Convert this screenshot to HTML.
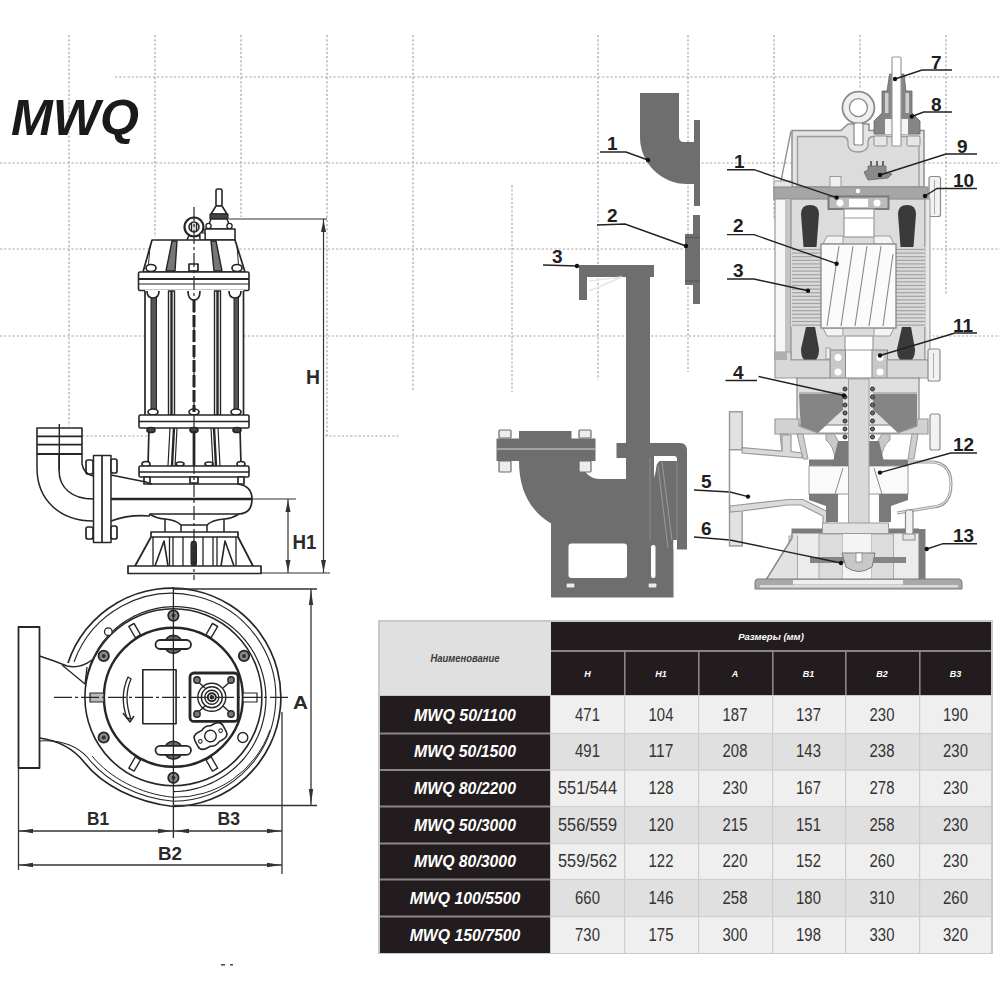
<!DOCTYPE html>
<html><head><meta charset="utf-8"><style>
html,body{margin:0;padding:0;background:#fff;width:1000px;height:1000px;overflow:hidden}
svg{display:block}
text{font-family:"Liberation Sans",sans-serif}
</style></head><body>
<svg width="1000" height="1000" viewBox="0 0 1000 1000">
<rect width="1000" height="1000" fill="#fff"/>
<g stroke="#a6a6a6" stroke-width="1.2" stroke-dasharray="2.2 2" fill="none"><line x1="69" y1="35" x2="69" y2="426"/><line x1="155" y1="35" x2="155" y2="237"/><line x1="241" y1="35" x2="241" y2="217"/><line x1="327" y1="35" x2="327" y2="436"/><line x1="413" y1="35" x2="413" y2="390"/><line x1="512" y1="185" x2="512" y2="392"/><line x1="598" y1="35" x2="598" y2="380"/><line x1="688" y1="35" x2="688" y2="372"/><line x1="774" y1="35" x2="774" y2="220"/><line x1="860" y1="35" x2="860" y2="88"/><line x1="946" y1="35" x2="946" y2="295"/><line x1="115" y1="77" x2="1000" y2="77"/><line x1="0" y1="163" x2="1000" y2="163"/><line x1="0" y1="249" x2="1000" y2="249"/><line x1="0" y1="336" x2="1000" y2="336"/><line x1="82" y1="436" x2="150" y2="436"/><line x1="325" y1="436" x2="400" y2="436"/></g>
<text x="11" y="135" font-family="Liberation Sans" font-weight="bold" font-style="italic" font-size="50" fill="#1a1a1a" textLength="128" lengthAdjust="spacingAndGlyphs">MWQ</text>
<g fill="none" stroke="#262626" stroke-width="1.7" stroke-linejoin="round">
  <!-- cable gland -->
  <rect x="216" y="189" width="6" height="17" rx="1.5" fill="#fff" stroke-width="1.6"/>
  <path d="M216,206 L222,206 L227,214 L211,214 Z" fill="#fff" stroke-width="1.6"/>
  <rect x="210" y="214" width="18" height="5" fill="#444" stroke-width="1.2"/>
  <path d="M211,219 L227,219 L231,229 L207,229 Z" fill="#fff" stroke-width="1.5"/>
  <circle cx="208.5" cy="226" r="2.6" fill="#fff" stroke-width="1.3"/><circle cx="229.5" cy="226" r="2.6" fill="#fff" stroke-width="1.3"/>
  <rect x="205" y="229" width="30" height="11" fill="#fff" stroke-width="1.6"/>
  <!-- eye bolt -->
  <circle cx="194" cy="227" r="9.5" fill="#fff" stroke-width="2.2"/>
  <circle cx="194" cy="227" r="5" fill="#ddd" stroke-width="1.5"/>
  <line x1="191.5" y1="223" x2="191.5" y2="231" stroke-width="1.2"/><line x1="196.5" y1="223" x2="196.5" y2="231" stroke-width="1.2"/>
  <path d="M189,235 L187,240 M199,235 L201,240" stroke-width="1.5"/>
  <rect x="200" y="233" width="5" height="7" fill="#fff" stroke-width="1.2"/>
  <!-- head -->
  <path d="M152,240 L235,240 L245,272 L143,272 Z" fill="#fff"/>
  <path d="M172,241 L166,271 L175,271 L177,241 Z" fill="#777" stroke-width="1.4"/>
  <path d="M211,241 L214,271 L222,271 L216,241 Z" fill="#777" stroke-width="1.4"/>
  <path d="M150,246 L148,271 M237,246 L239,271" stroke-width="1"/>
  <ellipse cx="151" cy="268" rx="5" ry="3.5" fill="#fff"/>
  <ellipse cx="237" cy="268" rx="5" ry="3.5" fill="#fff"/>
  <rect x="189" y="264" width="9" height="7" fill="#fff"/>
  <!-- flange 1 -->
  <rect x="138.5" y="272" width="110.5" height="18.5" rx="1.5" fill="#fff" stroke-width="1.6"/>
  <line x1="139" y1="279" x2="249" y2="279" stroke-width="1.8"/>
  <line x1="139" y1="284" x2="249" y2="284" stroke-width="1.2"/>
  <!-- motor body -->
  <rect x="145" y="290" width="98.5" height="126" fill="#fff" stroke="none"/>
  <path d="M149,428 L240,428 L241,466 L148,466 Z" fill="#fff" stroke="none"/>
  <line x1="145" y1="291" x2="145" y2="415"/>
  <line x1="243.5" y1="291" x2="243.5" y2="415"/>
  <rect x="151" y="297" width="5.5" height="118" fill="#555" stroke-width="1"/>
  <rect x="168.5" y="291" width="6" height="124" fill="#fff" stroke-width="1.4"/>
  <line x1="171.5" y1="291" x2="171.5" y2="415" stroke-width="2.4"/>
  <rect x="214.5" y="291" width="6" height="124" fill="#fff" stroke-width="1.4"/>
  <line x1="217.5" y1="291" x2="217.5" y2="415" stroke-width="2.4"/>
  <rect x="234" y="297" width="4.5" height="118" fill="#555" stroke-width="1"/>
  <path d="M147,291 Q147,298 153,298 Q159,298 159,291" fill="#fff"/>
  <path d="M229,291 Q229,298 235,298 Q241,298 241,291" fill="#fff"/>
  <path d="M188,291 Q188,300 194,300 Q200,300 200,291" fill="#fff"/>
  <ellipse cx="153" cy="412" rx="5" ry="3" fill="#fff"/>
  <ellipse cx="194" cy="412" rx="5" ry="3" fill="#fff"/>
  <ellipse cx="236" cy="412" rx="5" ry="3" fill="#fff"/>
  <!-- flange 2 -->
  <rect x="139" y="415" width="110" height="13" rx="1.5" fill="#fff" stroke-width="1.6"/>
  <line x1="139" y1="421.5" x2="249" y2="421.5" stroke-width="1.4"/>
  <!-- lower motor -->
  <path d="M149,428 L148,466 M240,428 L241,466" />
  <path d="M170,428 L168,466 M177,428 L175,466" stroke-width="1.2"/><path d="M174,428 L172,466" stroke-width="2.4"/>
  <path d="M211,428 L213,466 M218,428 L220,466" stroke-width="1.2"/><path d="M214,428 L216,466" stroke-width="2.4"/>
  <ellipse cx="151" cy="430" rx="4" ry="2.5" fill="#444"/>
  <ellipse cx="194" cy="430" rx="4" ry="2.5" fill="#444"/>
  <ellipse cx="237" cy="430" rx="4" ry="2.5" fill="#444"/>
  <ellipse cx="146" cy="464" rx="4" ry="2.5" fill="#fff"/>
  <ellipse cx="241" cy="464" rx="4" ry="2.5" fill="#fff"/>
  <ellipse cx="180" cy="464" rx="4" ry="2" fill="#fff"/>
  <ellipse cx="209" cy="464" rx="4" ry="2" fill="#fff"/>
  <!-- flange 3 -->
  <rect x="139" y="466" width="110" height="11" rx="1.5" fill="#fff" stroke-width="1.6"/>
  <line x1="139" y1="472" x2="249" y2="472" stroke-width="1.3"/>
  <rect x="144" y="477" width="6" height="7" fill="#fff"/>
  <rect x="238" y="477" width="6" height="7" fill="#fff"/>
  <rect x="190" y="477" width="8" height="6" fill="#fff"/>
  <!-- volute -->
  <path d="M150,484 L238,484 Q252,486 252,499 Q252,514 238,514 L150,514"/>
  <line x1="111" y1="499" x2="252" y2="499" stroke-width="2.6"/>
  <path d="M111,475 L146,482 Q150,484 152,484"/>
  <path d="M111,521 Q130,514 150,516"/>
  <path d="M149,514 Q158,519 165,519 Q176,520 181,525 L207,525 Q212,520 224,519 Q231,519 239,514"/>
  <path d="M165,519 L165,532 M181,525 L181,532 M207,525 L207,532 M224,519 L224,532" stroke-width="1.5"/>
  <!-- pedestal -->
  <rect x="151" y="532" width="87" height="5" fill="#fff"/>
  <path d="M151,537 L135,566 M238,537 L253,566" stroke-width="1.8"/>
  <path d="M153,537 L153,566 M236,537 L236,566 M169.5,537 L169.5,566 M173,537 L173,566 M183,537 L183,566 M203,537 L203,566 M213,537 L213,566 M217,537 L217,566" stroke-width="1.3"/>
  <path d="M155,566 L164,541 L168,566 M234,566 L225,541 L221,566" stroke-width="1.6"/>
  <rect x="191" y="541" width="5.5" height="25" rx="2.5" fill="#333" stroke-width="1"/>
  <rect x="128" y="566" width="133" height="7.5" fill="#fff" stroke-width="1.7"/>
  <!-- discharge flange -->
  <rect x="93.5" y="455.5" width="17.5" height="87" fill="#fff" stroke-width="1.5"/>
  <line x1="102" y1="456" x2="102" y2="542"/>
  <rect x="86" y="460" width="7" height="14" rx="2" fill="#fff"/>
  <rect x="111" y="459" width="6" height="14" rx="2" fill="#fff"/>
  <rect x="86" y="527" width="7" height="12" rx="2" fill="#fff"/>
  <rect x="111" y="526" width="6" height="13" rx="2" fill="#fff"/>
  <!-- elbow -->
  <path d="M37,454 L37,468 C37,500 60,521 93,521" stroke-width="1.5"/>
  <path d="M59,454 L59,470 C59,488 72,499 93,499" stroke-width="1.5"/>
  <path d="M82,454 L82,464 Q84,474 93,476" stroke-width="1.5"/>
  <rect x="37" y="428" width="45" height="26" fill="#fff" stroke-width="1.6"/>
  <line x1="37" y1="436.3" x2="82" y2="436.3" stroke-width="1.8"/>
  <line x1="37" y1="444.7" x2="82" y2="444.7" stroke-width="1.8"/>
  <line x1="37" y1="454" x2="82" y2="454" stroke-width="2"/>
  <line x1="59.3" y1="424" x2="59.3" y2="470" stroke-width="1.4"/>
  <!-- centerline -->
  <line x1="194" y1="431" x2="194" y2="466" stroke-width="2.8"/>
  <line x1="194" y1="300" x2="194" y2="412" stroke-width="3" stroke-dasharray="12 3"/>
  <line x1="194" y1="207" x2="194" y2="580" stroke-width="1.2" stroke-dasharray="14 3 3 3"/>
  <!-- dimensions -->
  <g stroke="#333" stroke-width="1.2">
    <line x1="229" y1="219" x2="327" y2="219"/>
    <line x1="323.5" y1="219" x2="323.5" y2="573"/>
    <line x1="252" y1="499" x2="296" y2="499"/>
    <line x1="288" y1="499" x2="288" y2="573"/>
    <line x1="261" y1="573" x2="330" y2="573"/>
  </g>
  <g fill="#333" stroke="none">
    <path d="M323.5,220 L321,232 L326,232 Z"/>
    <path d="M323.5,572 L321,560 L326,560 Z"/>
    <path d="M288,500 L285.5,512 L290.5,512 Z"/>
    <path d="M288,572 L285.5,560 L290.5,560 Z"/>
  </g>
</g>
<g font-family="Liberation Sans" font-weight="bold" font-size="20" fill="#2a2a2a">
  <text x="306" y="383.5" textLength="14" lengthAdjust="spacingAndGlyphs">H</text>
  <text x="292.5" y="548.5" textLength="24" lengthAdjust="spacingAndGlyphs">H1</text>
</g>

<g fill="none" stroke="#262626" stroke-width="1.6" stroke-linejoin="round">
  <!-- discharge flange -->
  <rect x="18.5" y="627" width="21" height="141" fill="#fff" stroke-width="1.8"/>
  <!-- neck & tongue -->
  <path d="M39.5,656 Q55,661 67,666 Q80,669 92,660" stroke-width="1.5"/>
  <path d="M62,665 L85,684 L87,667" stroke-width="1.3"/>
  <!-- volute spiral -->
  <path d="M68,663 A109.2,109.2 0 1,1 173.4,806.5 C135,802 102,785 84,762 Q68,742 39.5,738" stroke-width="1.7"/>
  <path d="M74,662 A104,104 0 1,1 173.4,801.3 C137,798 106,781 88,758 Q71,739 39.5,741" stroke-width="1.1"/>
  <path d="M270,730 A100,100 0 0,1 173.4,797.3 C140,794 110,778 92,756" stroke-width="1"/>
  <!-- motor flange circles -->
  <circle cx="173.4" cy="697.3" r="88.5" stroke-width="1.6"/>
  <path d="M85.5,683.4 L86.2,679.4 L87.0,675.4 L88.1,671.5 L89.3,667.6 L90.7,663.8 L92.2,660.0 L94.0,656.4 L95.9,652.7 L97.9,649.2 L100.1,645.8 L102.5,642.5 L105.1,639.3 L107.7,636.2 L110.5,633.2 L113.5,630.4 L116.6,627.7 L119.8,625.1 L123.1,622.7 L126.5,620.5 L130.0,618.4 L133.6,616.4 L137.3,614.7 L141.1,613.0 L145.0,611.6 L148.9,610.4 L152.9,609.3 L156.9,608.4 L160.9,607.7 L165.0,607.1 L169.1,606.8 L173.3,606.6 L177.4,606.7 L181.5,606.9 L185.6,607.3 L189.7,607.9 L193.8,608.7 L197.8,609.7 L201.8,610.8 L205.7,612.1 L209.6,613.7 L213.4,615.3 L217.1,617.2 L220.7,619.2 L224.3,621.4 L227.7,623.8 L231.0,626.3 L234.2,628.9 L237.3,631.7 L240.3,634.7 L243.1,637.8 L245.8,641.0 L248.3,644.3 L250.7,647.7 L252.9,651.3 L255.0,654.9 L256.9,658.7 L258.6,662.5 L260.2,666.4 L261.5,670.3 L262.7,674.4 L263.7,678.4 L264.5,682.6 L265.2,686.7 L265.6,690.9 L265.8,695.1 L265.9,699.3 L265.8,703.5 L265.4,707.8 L264.9,711.9 L264.2,716.1 L263.3,720.2 L262.2,724.3 L261.0,728.4 L259.5,732.3 L257.9,736.2 L256.0,740.1 L254.1,743.8 L251.9,747.5 L249.6,751.0 L247.1,754.5 L244.5,757.8 L241.7,761.0 L238.7,764.1 L235.7,767.0 L232.5,769.8 L229.1,772.5 L225.7,775.0 L222.1,777.3 L218.4,779.5 L214.7,781.5 L210.8,783.4 L206.9,785.0 L202.9,786.5 L198.8,787.8 L194.6,788.9 L190.5,789.9 L186.2,790.6 L182.0,791.1 L177.7,791.5 L173.4,791.6" stroke-width="1.2"/>
  <circle cx="173.4" cy="697.3" r="69.5" stroke-width="2.4"/>
  <!-- bolts -->
  <g fill="#8a8a8a" stroke="#262626" stroke-width="1.8">
    <circle cx="173.4" cy="615.6" r="5.2"/>
    <circle cx="173.4" cy="777.8" r="5.2"/>
    <circle cx="103.7" cy="655.9" r="5.2"/>
    <circle cx="244" cy="655.9" r="5.2"/>
    <circle cx="103.7" cy="737.5" r="5.2"/>
  </g>
  <g fill="#333" stroke="none">
    <circle cx="173.4" cy="615.6" r="2"/><circle cx="173.4" cy="777.8" r="2"/><circle cx="103.7" cy="655.9" r="2"/>
    <circle cx="244" cy="655.9" r="2"/><circle cx="103.7" cy="737.5" r="2"/>
  </g>
  <circle cx="242.8" cy="737.5" r="5" fill="#fff" stroke-width="1.4"/>
  <circle cx="108.3" cy="631.7" r="3.8" fill="#fff" stroke-width="1.3"/>
  <!-- slots -->
  <g fill="#fff" stroke-width="1.4">
    <rect x="-3" y="-6.5" width="6" height="13" transform="translate(134.7,630.6) rotate(-30)"/>
    <rect x="-3" y="-6.5" width="6" height="13" transform="translate(211.8,630.6) rotate(30)"/>
    <rect x="-3" y="-6.5" width="6" height="13" transform="translate(134.7,764) rotate(30)"/>
    <rect x="-3" y="-6.5" width="6" height="13" transform="translate(211.8,764) rotate(-30)"/>
  </g>
  <rect x="90" y="693" width="14" height="9" fill="#bbb" stroke-width="1.2"/>
  <rect x="243" y="693" width="14" height="9" fill="#fff" stroke-width="1.2"/>
  <!-- handles -->
  <ellipse cx="173.4" cy="644.4" rx="9" ry="9" fill="#6a6a6a"/>
  <rect x="155.5" y="640" width="35.5" height="9" rx="4.5" fill="#fff" stroke-width="1.8"/>
  <ellipse cx="173.4" cy="750.2" rx="9" ry="9" fill="#6a6a6a"/>
  <rect x="155.5" y="745.8" width="35.5" height="9" rx="4.5" fill="#fff" stroke-width="1.8"/>
  <!-- rectangle -->
  <rect x="142.8" y="669.7" width="33.3" height="54" fill="#fff" stroke-width="1.6"/>
  <!-- terminal box -->
  <rect x="190" y="673" width="48.2" height="48.4" rx="4" fill="#fff" stroke-width="2.8"/>
  <path d="M194,678 L205,688 M234,678 L223,688 M194,716 L205,706 M234,716 L223,706" stroke-width="1.4"/>
  <g fill="#777" stroke-width="1.4">
    <circle cx="197" cy="680" r="3.2"/><circle cx="231" cy="680" r="3.2"/>
    <circle cx="197" cy="714" r="3.2"/><circle cx="231" cy="714" r="3.2"/>
  </g>
  <circle cx="211.8" cy="697.3" r="14" stroke-width="1.4"/>
  <circle cx="211.8" cy="697.3" r="10.5" stroke-width="1.4"/>
  <circle cx="211.8" cy="697.3" r="7" stroke-width="1.4"/>
  <circle cx="211.8" cy="697.3" r="4" stroke-width="2"/>
  <circle cx="211.8" cy="697.3" r="1.5" fill="#333"/>
  <!-- oval flange -->
  <g transform="translate(210.5,736) rotate(-28)">
    <path d="M-16,-3 Q-16,-9 -9,-9 L-5,-9 Q0,-12 5,-9 L9,-9 Q16,-9 16,-3 L16,3 Q16,9 9,9 L5,9 Q0,12 -5,9 L-9,9 Q-16,9 -16,3 Z" fill="#fff" stroke-width="1.6"/>
    <circle cx="0" cy="0" r="5.8" fill="#fff" stroke-width="1.4"/>
    <circle cx="-11.5" cy="0" r="1.8" fill="#fff" stroke-width="1"/>
    <circle cx="11.5" cy="0" r="1.8" fill="#fff" stroke-width="1"/>
  </g>
  <!-- rotation arrow -->
  <path d="M128,677 Q119,697 127,718 L131,719 Q123,697 131,679 Z" fill="#fff" stroke-width="1.3"/>
  <path d="M123,713 L130,722 L134,716" stroke-width="1.4"/>
  <!-- centerlines -->
  <line x1="54" y1="697.3" x2="290" y2="697.3" stroke-width="1.2" stroke-dasharray="18 3 3 3"/>
  <line x1="173.4" y1="587" x2="173.4" y2="838" stroke-width="1.3"/>
  <!-- dimensions -->
  <g stroke="#333" stroke-width="1.3">
    <line x1="173" y1="589" x2="317" y2="589"/>
    <line x1="173" y1="805.5" x2="317" y2="805.5"/>
    <line x1="311" y1="589" x2="311" y2="805"/>
    <line x1="18.5" y1="767" x2="18.5" y2="870"/>
    <line x1="282" y1="712" x2="282" y2="874"/>
    <line x1="18.5" y1="831" x2="282" y2="831"/>
    <line x1="18.5" y1="865" x2="282" y2="865"/>
  </g>
  <g fill="#333" stroke="none">
    <path d="M311,590 L308.8,605 L313.2,605 Z"/>
    <path d="M311,804 L308.8,789 L313.2,789 Z"/>
    <path d="M19.5,831 L33,828.8 L33,833.2 Z"/>
    <path d="M172,831 L158,828.8 L158,833.2 Z"/>
    <path d="M175,831 L189,828.8 L189,833.2 Z"/>
    <path d="M281,831 L267,828.8 L267,833.2 Z"/>
    <path d="M19.5,865 L33,862.8 L33,867.2 Z"/>
    <path d="M281,865 L267,862.8 L267,867.2 Z"/>
  </g>
</g>
<g font-family="Liberation Sans" font-weight="bold" font-size="19" fill="#2a2a2a">
  <text x="293" y="708.5" textLength="15" lengthAdjust="spacingAndGlyphs">A</text>
  <text x="87" y="824.5" textLength="22" lengthAdjust="spacingAndGlyphs">B1</text>
  <text x="217.5" y="825" textLength="22.5" lengthAdjust="spacingAndGlyphs">B3</text>
  <text x="158" y="859.5" textLength="24" lengthAdjust="spacingAndGlyphs">B2</text>
</g>

<g fill="#6e6e6e" stroke="none">
  <!-- piece 1 elbow -->
  <path d="M640,93 L679,93 L679,137 Q679,142 684,142 L694,142 L694,120 L700,120 L700,206 L694,206 L694,184 L687,184 A47,47 0 0,1 640,137 Z"/>
  <!-- piece 2 -->
  <rect x="693" y="215" width="7" height="89"/>
  <rect x="685" y="234" width="15" height="51"/>
  <!-- piece 3 bracket & rail -->
  <rect x="579" y="265" width="75" height="12"/>
  <rect x="579" y="277" width="8" height="23"/>
  <rect x="626" y="277" width="24" height="307"/>
  <!-- duckfoot flange -->
  <rect x="496.5" y="438.5" width="99" height="22.5"/>
  <rect x="519" y="431" width="52.5" height="8"/>
  <!-- elbow body -->
  <path d="M519,461 L579,461 Q586,479 600,479 L626,479 L626,524 L552,524 Q519,505 519,461 Z"/>
  <!-- base -->
  <path d="M551,520 L673.5,520 L673.5,597.5 L551,597.5 Z"/>
  <!-- right bracket -->
  <path d="M649,443 L680,443 Q687,443 687,451 L687,549.5 L677,549.5 L677,540 L649,540 Z"/>
  <rect x="616.5" y="443" width="9.5" height="15"/>
</g>
<g fill="#fff" stroke="none">
  <rect x="568.5" y="543.5" width="58.5" height="34.5" rx="3"/>
  <rect x="651" y="545" width="4.5" height="33" rx="2"/>
  <path d="M654,456 L674,456 Q677,456 677,459 L677,461 L660,461 Q656,463 656,470 L654,478 Z"/>
  <path d="M673.5,540 L677,540 L677,549.5 L673.5,549.5 Z"/>
</g>
<g fill="none" stroke="#d8d8d8" stroke-width="1">
  <path d="M589,281 L622,277 L589,291" stroke="#e6e6e6" stroke-width="1.6"/>
  <line x1="497" y1="449" x2="595" y2="449"/>
  <line x1="685" y1="237.5" x2="700" y2="237.5" stroke="#555"/>
  <line x1="685" y1="281" x2="700" y2="281" stroke="#555"/>
  <line x1="650" y1="458" x2="650" y2="540" stroke="#8a8a8a"/>
  <line x1="658" y1="466" x2="668" y2="548" stroke="#9a9a9a"/>
  <line x1="662" y1="462" x2="672" y2="540" stroke="#9a9a9a"/>
  <line x1="677" y1="462" x2="677" y2="540" stroke="#8a8a8a"/>
</g>
<g fill="#ececec" stroke="#6a6a6a" stroke-width="1.2">
  <rect x="499" y="430" width="12" height="8" rx="1"/>
  <rect x="579" y="430" width="12" height="8" rx="1"/>
  <rect x="499" y="461" width="12" height="11" rx="1"/>
  <rect x="579" y="461" width="12" height="11" rx="1"/>
  <rect x="566" y="583" width="9" height="5" rx="1"/>
  <rect x="648" y="583" width="9" height="5" rx="1"/>
</g>
<g fill="none" stroke="#222" stroke-width="1.4">
  <path d="M600,152 L626,152 L648,160"/>
  <path d="M597,225 L625,224 L686,246"/>
  <path d="M543,265 L578,266"/>
  <path d="M694,490 L730,492"/>
  <path d="M694,537 L730,540"/>
</g>
<g fill="#111">
  <circle cx="648" cy="160" r="2.2"/>
  <circle cx="686" cy="246" r="2.2"/>
  <circle cx="577" cy="266" r="2.2"/>
</g>
<g font-family="Liberation Sans" font-weight="bold" font-size="19" fill="#1e1e1e">
  <text x="607" y="150">1</text>
  <text x="607" y="222">2</text>
  <text x="552" y="263">3</text>
  <text x="701" y="488">5</text>
  <text x="701" y="535">6</text>
</g>

<g id="sect">
  <!-- ===== top cover ===== -->
  <path d="M792,130.5 L841,130.5 L848,124 L869,124 L869,130.5 L924,130.5 L924,187 L792,187 Z" fill="#e4e4e4" stroke="#8e8e8e" stroke-width="1.5"/>
  <path d="M797.5,136.5 L843,136.5 Q848,137 848,142 L848,146 Q850,152 858,152 Q866,152 868,146 L868,142 Q868,137 873,136.5 L919,136.5 L919,187 L797.5,187 Z" fill="#dcdcdc" stroke="#999" stroke-width="1.3"/>
  <path d="M791,131 L781,181" stroke="#8e8e8e" stroke-width="1.3" fill="none"/>
  <!-- eye bolt -->
  <circle cx="858.4" cy="107.6" r="16" fill="#efefef" stroke="#8a8a8a" stroke-width="1.8"/>
  <circle cx="858.4" cy="107.6" r="9" fill="#fff" stroke="#8a8a8a" stroke-width="1.3"/>
  <rect x="854" y="123" width="9" height="22" rx="2" fill="#fff" stroke="#8a8a8a" stroke-width="1.2"/>
  <!-- cable gland -->
  <path d="M889.6,74 L904,74 L906,91 L912,91 L912,113 L920,121 L920,134 L874,134 L874,121 L882,113 L882,91 L887,91 Z" fill="#858585" stroke="#666" stroke-width="0.8"/>
  <rect x="885" y="93" width="3.5" height="20" fill="#d0d0d0"/>
  <rect x="905.5" y="93" width="3.5" height="20" fill="#d0d0d0"/>
  <rect x="885" y="119" width="7" height="15" fill="#f4f4f4"/>
  <rect x="901" y="119" width="7" height="15" fill="#f4f4f4"/>
  <rect x="892" y="57" width="9" height="89" rx="1" fill="#fff" stroke="#9a9a9a" stroke-width="1.2"/>
  <rect x="874" y="136" width="13" height="10" rx="1.5" fill="#e6e6e6" stroke="#8e8e8e" stroke-width="1"/>
  <rect x="907" y="136" width="13" height="10" rx="1.5" fill="#e6e6e6" stroke="#8e8e8e" stroke-width="1"/>
  <!-- terminal block 9 -->
  <path d="M864,172 L868,170 L868,166 L886,166 L886,172 L892,174 L888,178 L868,180 Z" fill="#8a8a8a" stroke="#666" stroke-width="0.8"/>
  <path d="M871,166 L871,161 M877,166 L877,161 M883,166 L883,161" stroke="#666" stroke-width="2"/>
  <rect x="830" y="176.5" width="11" height="11" fill="#f0f0f0" stroke="#9a9a9a" stroke-width="1"/>
  <!-- ===== flange plate ===== -->
  <rect x="774" y="181" width="18" height="18" fill="#e6e6e6" stroke="#9a9a9a" stroke-width="1"/>
  <rect x="774" y="187" width="154" height="12" fill="#a6a6a6" stroke="#8a8a8a" stroke-width="1"/>
  <circle cx="858" cy="191" r="2.2" fill="#fff"/>
  <!-- bolt 10 -->
  <rect x="929" y="176.5" width="11.5" height="40" rx="2" fill="#f2f2f2" stroke="#8a8a8a" stroke-width="1.2"/>
  <line x1="934.5" y1="180" x2="934.5" y2="214" stroke="#aaa" stroke-width="1"/>
  <!-- ===== motor housing ===== -->
  <rect x="775" y="199" width="16" height="161" fill="#f6f6f6" stroke="#999" stroke-width="1.2"/>
  <rect x="785" y="199" width="6" height="161" fill="#c4c4c4"/>
  <rect x="791" y="199" width="134" height="161" fill="#dcdcdc" stroke="#999" stroke-width="1.4"/>
  <rect x="925" y="199" width="5" height="161" fill="#e8e8e8" stroke="#999" stroke-width="1"/>
  <!-- upper bearing -->
  <rect x="828.5" y="196.5" width="60" height="12.5" fill="#bdbdbd" stroke="#7a7a7a" stroke-width="2"/>
  <rect x="849" y="199" width="19" height="8" fill="#fff"/>
  <circle cx="840" cy="203" r="3.5" fill="#fff"/>
  <circle cx="877" cy="203" r="3.5" fill="#fff"/>
  <!-- upper shaft -->
  <rect x="844" y="209" width="30" height="28" fill="#fff" stroke="#9a9a9a" stroke-width="1.2"/>
  <line x1="844" y1="218" x2="874" y2="218" stroke="#9a9a9a" stroke-width="1"/>
  <!-- top blobs -->
  <path d="M803.5,247 L801,214 Q801,205 810,205 Q819,205 819,214 L816.5,247 Z" fill="#3a3a3a"/>
  <path d="M900.5,247 L898,214 Q898,205 907,205 Q916,205 916,214 L913.5,247 Z" fill="#3a3a3a"/>
  <!-- rotor end rings -->
  <path d="M823,244 L827,236 L843,236 L843,244 Z" fill="#f4f4f4" stroke="#9a9a9a" stroke-width="1"/>
  <path d="M874,244 L874,236 L890,236 L894,244 Z" fill="#f4f4f4" stroke="#9a9a9a" stroke-width="1"/>
  <path d="M823,328 L827,336 L843,336 L843,328 Z" fill="#f4f4f4" stroke="#9a9a9a" stroke-width="1"/>
  <path d="M874,328 L874,336 L890,336 L894,328 Z" fill="#f4f4f4" stroke="#9a9a9a" stroke-width="1"/>
  <!-- stator -->
  <rect x="791" y="247" width="30" height="80" fill="#dadada"/>
  <rect x="896" y="247" width="29.5" height="80" fill="#dadada"/>
  <g stroke="#a2a2a2" stroke-width="1.2">
    <line x1="792" y1="249.5" x2="821" y2="249.5"/><line x1="896" y1="249.5" x2="925" y2="249.5"/>
    <line x1="792" y1="253.1" x2="821" y2="253.1"/><line x1="896" y1="253.1" x2="925" y2="253.1"/>
    <line x1="792" y1="256.7" x2="821" y2="256.7"/><line x1="896" y1="256.7" x2="925" y2="256.7"/>
    <line x1="792" y1="260.3" x2="821" y2="260.3"/><line x1="896" y1="260.3" x2="925" y2="260.3"/>
    <line x1="792" y1="263.9" x2="821" y2="263.9"/><line x1="896" y1="263.9" x2="925" y2="263.9"/>
    <line x1="792" y1="267.5" x2="821" y2="267.5"/><line x1="896" y1="267.5" x2="925" y2="267.5"/>
    <line x1="792" y1="271.1" x2="821" y2="271.1"/><line x1="896" y1="271.1" x2="925" y2="271.1"/>
    <line x1="792" y1="274.7" x2="821" y2="274.7"/><line x1="896" y1="274.7" x2="925" y2="274.7"/>
    <line x1="792" y1="278.3" x2="821" y2="278.3"/><line x1="896" y1="278.3" x2="925" y2="278.3"/>
    <line x1="792" y1="281.9" x2="821" y2="281.9"/><line x1="896" y1="281.9" x2="925" y2="281.9"/>
    <line x1="792" y1="285.5" x2="821" y2="285.5"/><line x1="896" y1="285.5" x2="925" y2="285.5"/>
    <line x1="792" y1="289.1" x2="821" y2="289.1"/><line x1="896" y1="289.1" x2="925" y2="289.1"/>
    <line x1="792" y1="292.7" x2="821" y2="292.7"/><line x1="896" y1="292.7" x2="925" y2="292.7"/>
    <line x1="792" y1="296.3" x2="821" y2="296.3"/><line x1="896" y1="296.3" x2="925" y2="296.3"/>
    <line x1="792" y1="299.9" x2="821" y2="299.9"/><line x1="896" y1="299.9" x2="925" y2="299.9"/>
    <line x1="792" y1="303.5" x2="821" y2="303.5"/><line x1="896" y1="303.5" x2="925" y2="303.5"/>
    <line x1="792" y1="307.1" x2="821" y2="307.1"/><line x1="896" y1="307.1" x2="925" y2="307.1"/>
    <line x1="792" y1="310.7" x2="821" y2="310.7"/><line x1="896" y1="310.7" x2="925" y2="310.7"/>
    <line x1="792" y1="314.3" x2="821" y2="314.3"/><line x1="896" y1="314.3" x2="925" y2="314.3"/>
    <line x1="792" y1="317.9" x2="821" y2="317.9"/><line x1="896" y1="317.9" x2="925" y2="317.9"/>
    <line x1="792" y1="321.5" x2="821" y2="321.5"/><line x1="896" y1="321.5" x2="925" y2="321.5"/>
    <line x1="792" y1="325.1" x2="821" y2="325.1"/><line x1="896" y1="325.1" x2="925" y2="325.1"/>
  </g>
  <!-- rotor -->
  <rect x="821" y="244" width="75" height="84" fill="#fbfbfb" stroke="#8e8e8e" stroke-width="1.4"/>
  <g stroke="#8a8a8a" stroke-width="1.1">
    <line x1="827" y1="326" x2="839" y2="246"/>
    <line x1="841" y1="326" x2="853" y2="246"/>
    <line x1="855" y1="326" x2="867" y2="246"/>
    <line x1="869" y1="326" x2="881" y2="246"/>
    <line x1="883" y1="326" x2="893" y2="254"/>
  </g>
  <!-- lower shaft & bearings -->
  <rect x="845" y="336" width="28" height="43" fill="#fff" stroke="#9a9a9a" stroke-width="1.2"/>
  <line x1="845" y1="350" x2="873" y2="350" stroke="#9a9a9a" stroke-width="1"/>
  <rect x="830" y="350" width="15.5" height="29.5" fill="#c8c8c8" stroke="#8a8a8a" stroke-width="1"/>
  <rect x="872" y="350" width="15.5" height="29.5" fill="#c8c8c8" stroke="#8a8a8a" stroke-width="1"/>
  <circle cx="838" cy="357.5" r="3.5" fill="#fff"/><circle cx="838" cy="372" r="3.5" fill="#fff"/>
  <circle cx="880" cy="357.5" r="3.5" fill="#fff"/><circle cx="880" cy="372" r="3.5" fill="#fff"/>
  <rect x="826" y="348" width="4" height="11" fill="#eee" stroke="#8a8a8a" stroke-width="0.8"/>
  <!-- bottom blobs -->
  <path d="M806,327 L815,327 L819,349 Q819,362 810,362 Q801,362 801,349 Z" fill="#3a3a3a"/>
  <path d="M902,327 L911,327 L915,349 Q915,362 906,362 Q897,362 897,349 Z" fill="#3a3a3a"/>
  <!-- motor bottom flange -->
  <path d="M775,352 L791,352 L791,360 L830,360 L830,380 L797,380 L797,378 L775,378 Z" fill="#d8d8d8" stroke="#999" stroke-width="1.2"/>
  <path d="M887,360 L930,360 L930,378 L919,378 L919,380 L887,380 Z" fill="#d8d8d8" stroke="#999" stroke-width="1.2"/>
  <rect x="775" y="352" width="12" height="8" fill="#b0b0b0"/>
  <rect x="928" y="349" width="12" height="32" rx="2" fill="#f2f2f2" stroke="#8a8a8a" stroke-width="1.2"/>
  <line x1="933.5" y1="353" x2="933.5" y2="378" stroke="#aaa"/>
  <!-- ===== seal chamber ===== -->
  <rect x="797" y="378" width="122" height="47" fill="#e0e0e0" stroke="#999" stroke-width="1.4"/>
  <path d="M799,393 L843,393 L843,410 L836,416 L818,433 L801,433 Z" fill="#858585"/>
  <path d="M873,393 L917,393 L917,433 L898,433 L880,416 L873,410 Z" fill="#858585"/>
  <rect x="799" y="392" width="44" height="2" fill="#b8b8b8"/>
  <rect x="873" y="392" width="44" height="2" fill="#b8b8b8"/>
  <!-- flange below seal -->
  <path d="M775,419 L799,419 L799,426 L818,433 L898,433 L917,426 L917,419 L928,419 L928,434 L775,434 Z" fill="#d2d2d2" stroke="#999" stroke-width="1.2"/>
  <rect x="930" y="414" width="10" height="36" rx="2" fill="#f2f2f2" stroke="#8a8a8a" stroke-width="1.2"/>
  <!-- casing below -->
  <path d="M797,434 L803,434 L808,459 L803,459 Z M780,434 L788,434 L791,453 L782,453 Z" fill="#cfcfcf" stroke="#999" stroke-width="1"/>
  <path d="M826,434 L834,434 Q842,445 843,460 L835,460 Q834,446 826,440 Z" fill="#c9c9c9" stroke="#999" stroke-width="1"/>
  <path d="M890,434 L882,434 Q874,445 873,460 L881,460 Q882,446 890,440 Z" fill="#c9c9c9" stroke="#999" stroke-width="1"/>
  <path d="M912,434 L918,434 L914,459 L908,459 Z" fill="#cfcfcf" stroke="#999" stroke-width="1"/>
  <!-- discharge flange 5 -->
  <rect x="729.5" y="411.75" width="12.7" height="38" fill="#e2e2e2" stroke="#999" stroke-width="1.4"/>
  <rect x="729.5" y="508" width="12.7" height="38" fill="#e2e2e2" stroke="#999" stroke-width="1.4"/>
  <line x1="729.5" y1="449" x2="729.5" y2="509" stroke="#999" stroke-width="1.6"/>
  <!-- volute upper wall -->
  <path d="M742,447.7 L782,451 L782,435 L791,435 L791,451.5 L801,453 Q804,455 801,458 L742,453 Z" fill="#dadada" stroke="#999" stroke-width="1.2"/>
  <!-- volute lower wall -->
  <path d="M730,506 L788,499.5 L803,499.5 L828,512 L828,528 L823,528 L823,516 L801,505 L788,505 L742,511 L730,512 Z" fill="#dadada" stroke="#999" stroke-width="1.2"/>
  <!-- volute right loop -->
  <path d="M907,462 L933,462 Q951,464 951,484 Q951,506 933,507 L897,513" fill="none" stroke="#9a9a9a" stroke-width="3"/>
  <path d="M907,462 L933,462 Q951,464 951,484 Q951,506 933,507 L897,513" fill="none" stroke="#f2f2f2" stroke-width="1"/>
  <!-- impeller -->
  <rect x="809" y="459.5" width="99" height="6.5" fill="#7a7a7a"/>
  <rect x="809" y="466" width="99" height="28" fill="#fafafa" stroke="#9a9a9a" stroke-width="1"/>
  <path d="M809,494 L838,494 L838,522 L826,522 L826,506 L809,500 Z" fill="#7a7a7a"/>
  <path d="M908,494 L879,494 L879,522 L891,522 L891,506 L908,500 Z" fill="#7a7a7a"/>
  <path d="M838,441 L848,441 L848,466 L832,466 Z" fill="#7a7a7a"/>
  <path d="M879,441 L869,441 L869,466 L885,466 Z" fill="#7a7a7a"/>
  <line x1="843" y1="468" x2="835" y2="494" stroke="#8a8a8a" stroke-width="1"/>
  <line x1="874" y1="468" x2="882" y2="494" stroke="#8a8a8a" stroke-width="1"/>
  <!-- shaft -->
  <rect x="848.5" y="379" width="20.5" height="167" fill="#d9d9d9" stroke="#a0a0a0" stroke-width="1"/>
  <g fill="#6a6a6a" stroke="#2e2e2e" stroke-width="1">
    <circle cx="845" cy="389" r="2"/><circle cx="845" cy="397" r="2"/><circle cx="845" cy="405" r="2"/><circle cx="845" cy="413" r="2"/><circle cx="845" cy="421" r="2"/><circle cx="845" cy="429" r="2"/><circle cx="845" cy="437" r="2"/>
    <circle cx="872.5" cy="389" r="2"/><circle cx="872.5" cy="397" r="2"/><circle cx="872.5" cy="405" r="2"/><circle cx="872.5" cy="413" r="2"/><circle cx="872.5" cy="421" r="2"/><circle cx="872.5" cy="429" r="2"/><circle cx="872.5" cy="437" r="2"/>
  </g>
  <!-- ===== base ===== -->
  <rect x="794" y="533" width="126" height="47" fill="#ececec"/>
  <g fill="#dcdcdc" stroke="#a8a8a8" stroke-width="1">
    <rect x="789" y="536" width="8.5" height="44"/>
    <rect x="819" y="534" width="24" height="46"/>
    <rect x="871" y="534" width="22.5" height="46"/>
  </g>
  <rect x="843" y="534" width="28" height="46" fill="#f4f4f4"/>
  <path d="M791.5,531 L919,531" stroke="#7c7c7c" stroke-width="5" fill="none"/>
  <path d="M922,529 L922,580" stroke="#7c7c7c" stroke-width="7" fill="none"/>
  <path d="M792,533 L792,538 L766,580 L797,580 L797,536 Z" fill="#e2e2e2" stroke="none"/>
  <path d="M792,533 L792,538 L766,580" stroke="#8a8a8a" stroke-width="1.5" fill="none"/>
  <rect x="822.5" y="523" width="66" height="10.5" fill="#e2e2e2" stroke="#9a9a9a" stroke-width="1"/>
  <rect x="905.5" y="510" width="7.5" height="25" rx="2" fill="#f2f2f2" stroke="#8a8a8a" stroke-width="1.2"/>
  <rect x="903" y="534" width="12" height="6" fill="#e6e6e6" stroke="#8a8a8a" stroke-width="1"/>
  <!-- cutter 6 -->
  <path d="M810,557 L906,557 L906,563 L810,563 Z" fill="#858585"/>
  <path d="M842,553 L875,553 L872,567 Q859,576 846,567 Z" fill="#c8c8c8" stroke="#7a7a7a" stroke-width="1"/>
  <rect x="856" y="553" width="6" height="9" fill="#fff" stroke="#888" stroke-width="0.8"/>
  <!-- base plate -->
  <path d="M757,579 L959,579 Q962,579 962,583 L962,589 L755,589 L755,583 Q755,579 757,579 Z" fill="#a8a8a8" stroke="#7a7a7a" stroke-width="1"/>
  <rect x="793" y="580" width="110" height="4.5" fill="#eeeeee"/>
  <rect x="760" y="585" width="198" height="2.5" fill="#dcdcdc"/>
</g>
<!-- leaders -->
<g fill="none" stroke="#222" stroke-width="1.4">
  <path d="M895,79 L922,70 L952,70"/>
  <path d="M911.7,116.5 L923.7,112 L952,112"/>
  <path d="M880,175 L946,154 L977,154"/>
  <path d="M925,196 L937,188.5 L977,188.5"/>
  <path d="M727,169.7 L754,169.7 L836.6,197.6"/>
  <path d="M727,234.6 L754,234.6 L836.6,263.7"/>
  <path d="M727,279 L754,279 L808,290.7"/>
  <path d="M880,355.5 L955,333 L977,333"/>
  <path d="M725.5,380.5 L757,380.5 M758.5,376.5 L844,395.5"/>
  <path d="M880,472.6 L950.7,453 L977,453"/>
  <path d="M926.7,549 L943,543.7 L977,543.7"/>
  <path d="M730,492 L748,496.6"/>
  <path d="M730,540 L841,563"/>
</g>
<g fill="#111">
  <circle cx="895" cy="79" r="2.2"/><circle cx="911.7" cy="116.5" r="2.2"/><circle cx="880" cy="175" r="2.2"/>
  <circle cx="925" cy="196" r="2.2"/><circle cx="836.6" cy="197.6" r="2.2"/><circle cx="836.6" cy="263.7" r="2.2"/>
  <circle cx="808" cy="290.7" r="2.2"/><circle cx="880" cy="355.5" r="2.2"/><circle cx="844" cy="395.5" r="2.2"/>
  <circle cx="880" cy="472.6" r="2.2"/><circle cx="926.7" cy="549" r="2.2"/><circle cx="748" cy="496.6" r="2.2"/>
  <circle cx="841" cy="563" r="2.2"/>
</g>
<g font-family="Liberation Sans" font-weight="bold" font-size="19" fill="#1e1e1e">
  <text x="931" y="69">7</text>
  <text x="931" y="111">8</text>
  <text x="957" y="153">9</text>
  <text x="953" y="187">10</text>
  <text x="734" y="168">1</text>
  <text x="733" y="232">2</text>
  <text x="733" y="277">3</text>
  <text x="953" y="332">11</text>
  <text x="733" y="379">4</text>
  <text x="953" y="451">12</text>
  <text x="953" y="542">13</text>
</g>

<rect x="378" y="620" width="615" height="334" fill="#c9c9c9"/><rect x="380" y="622" width="171" height="73" fill="#e0e0e0"/><rect x="551" y="622" width="440" height="73" fill="#231c1e"/><rect x="551" y="650" width="440" height="2" fill="#8a8586"/><rect x="624" y="652" width="1.6" height="43" fill="#8a8586"/><rect x="698" y="652" width="1.6" height="43" fill="#8a8586"/><rect x="772" y="652" width="1.6" height="43" fill="#8a8586"/><rect x="845" y="652" width="1.6" height="43" fill="#8a8586"/><rect x="919" y="652" width="1.6" height="43" fill="#8a8586"/><rect x="380" y="696" width="170" height="37" fill="#231c1e"/><rect x="551" y="696" width="440" height="37" fill="#efefef"/><rect x="624" y="696" width="1.2" height="37" fill="#cdcdcd"/><rect x="698" y="696" width="1.2" height="37" fill="#cdcdcd"/><rect x="772" y="696" width="1.2" height="37" fill="#cdcdcd"/><rect x="845" y="696" width="1.2" height="37" fill="#cdcdcd"/><rect x="919" y="696" width="1.2" height="37" fill="#cdcdcd"/><text x="465" y="720.5" text-anchor="middle" font-family="Liberation Sans" font-weight="bold" font-style="italic" font-size="17" fill="#fff" textLength="101.9" lengthAdjust="spacingAndGlyphs">MWQ 50/1100</text><text x="587.5" y="720.5" text-anchor="middle" font-family="Liberation Sans" font-size="17.5" fill="#333" textLength="24.8" lengthAdjust="spacingAndGlyphs">471</text><text x="661.0" y="720.5" text-anchor="middle" font-family="Liberation Sans" font-size="17.5" fill="#333" textLength="24.8" lengthAdjust="spacingAndGlyphs">104</text><text x="735.0" y="720.5" text-anchor="middle" font-family="Liberation Sans" font-size="17.5" fill="#333" textLength="24.8" lengthAdjust="spacingAndGlyphs">187</text><text x="808.5" y="720.5" text-anchor="middle" font-family="Liberation Sans" font-size="17.5" fill="#333" textLength="24.8" lengthAdjust="spacingAndGlyphs">137</text><text x="882.0" y="720.5" text-anchor="middle" font-family="Liberation Sans" font-size="17.5" fill="#333" textLength="24.8" lengthAdjust="spacingAndGlyphs">230</text><text x="955.5" y="720.5" text-anchor="middle" font-family="Liberation Sans" font-size="17.5" fill="#333" textLength="24.8" lengthAdjust="spacingAndGlyphs">190</text><rect x="380" y="733" width="170" height="36.5" fill="#231c1e"/><rect x="551" y="733" width="440" height="36.5" fill="#e0e0e0"/><rect x="624" y="733" width="1.2" height="36.5" fill="#cdcdcd"/><rect x="698" y="733" width="1.2" height="36.5" fill="#cdcdcd"/><rect x="772" y="733" width="1.2" height="36.5" fill="#cdcdcd"/><rect x="845" y="733" width="1.2" height="36.5" fill="#cdcdcd"/><rect x="919" y="733" width="1.2" height="36.5" fill="#cdcdcd"/><rect x="380" y="732.5" width="170" height="2" fill="#8a8586"/><rect x="551" y="732.9" width="440" height="1.3" fill="#d0d0d0"/><text x="465" y="757.25" text-anchor="middle" font-family="Liberation Sans" font-weight="bold" font-style="italic" font-size="17" fill="#fff" textLength="101.9" lengthAdjust="spacingAndGlyphs">MWQ 50/1500</text><text x="587.5" y="757.25" text-anchor="middle" font-family="Liberation Sans" font-size="17.5" fill="#333" textLength="24.8" lengthAdjust="spacingAndGlyphs">491</text><text x="661.0" y="757.25" text-anchor="middle" font-family="Liberation Sans" font-size="17.5" fill="#333" textLength="24.8" lengthAdjust="spacingAndGlyphs">117</text><text x="735.0" y="757.25" text-anchor="middle" font-family="Liberation Sans" font-size="17.5" fill="#333" textLength="24.8" lengthAdjust="spacingAndGlyphs">208</text><text x="808.5" y="757.25" text-anchor="middle" font-family="Liberation Sans" font-size="17.5" fill="#333" textLength="24.8" lengthAdjust="spacingAndGlyphs">143</text><text x="882.0" y="757.25" text-anchor="middle" font-family="Liberation Sans" font-size="17.5" fill="#333" textLength="24.8" lengthAdjust="spacingAndGlyphs">238</text><text x="955.5" y="757.25" text-anchor="middle" font-family="Liberation Sans" font-size="17.5" fill="#333" textLength="24.8" lengthAdjust="spacingAndGlyphs">230</text><rect x="380" y="769.5" width="170" height="36.5" fill="#231c1e"/><rect x="551" y="769.5" width="440" height="36.5" fill="#efefef"/><rect x="624" y="769.5" width="1.2" height="36.5" fill="#cdcdcd"/><rect x="698" y="769.5" width="1.2" height="36.5" fill="#cdcdcd"/><rect x="772" y="769.5" width="1.2" height="36.5" fill="#cdcdcd"/><rect x="845" y="769.5" width="1.2" height="36.5" fill="#cdcdcd"/><rect x="919" y="769.5" width="1.2" height="36.5" fill="#cdcdcd"/><rect x="380" y="769.0" width="170" height="2" fill="#8a8586"/><rect x="551" y="769.4" width="440" height="1.3" fill="#d0d0d0"/><text x="465" y="793.75" text-anchor="middle" font-family="Liberation Sans" font-weight="bold" font-style="italic" font-size="17" fill="#fff" textLength="101.9" lengthAdjust="spacingAndGlyphs">MWQ 80/2200</text><text x="587.5" y="793.75" text-anchor="middle" font-family="Liberation Sans" font-size="17.5" fill="#333" textLength="59.0" lengthAdjust="spacingAndGlyphs">551/544</text><text x="661.0" y="793.75" text-anchor="middle" font-family="Liberation Sans" font-size="17.5" fill="#333" textLength="24.8" lengthAdjust="spacingAndGlyphs">128</text><text x="735.0" y="793.75" text-anchor="middle" font-family="Liberation Sans" font-size="17.5" fill="#333" textLength="24.8" lengthAdjust="spacingAndGlyphs">230</text><text x="808.5" y="793.75" text-anchor="middle" font-family="Liberation Sans" font-size="17.5" fill="#333" textLength="24.8" lengthAdjust="spacingAndGlyphs">167</text><text x="882.0" y="793.75" text-anchor="middle" font-family="Liberation Sans" font-size="17.5" fill="#333" textLength="24.8" lengthAdjust="spacingAndGlyphs">278</text><text x="955.5" y="793.75" text-anchor="middle" font-family="Liberation Sans" font-size="17.5" fill="#333" textLength="24.8" lengthAdjust="spacingAndGlyphs">230</text><rect x="380" y="806" width="170" height="37" fill="#231c1e"/><rect x="551" y="806" width="440" height="37" fill="#e0e0e0"/><rect x="624" y="806" width="1.2" height="37" fill="#cdcdcd"/><rect x="698" y="806" width="1.2" height="37" fill="#cdcdcd"/><rect x="772" y="806" width="1.2" height="37" fill="#cdcdcd"/><rect x="845" y="806" width="1.2" height="37" fill="#cdcdcd"/><rect x="919" y="806" width="1.2" height="37" fill="#cdcdcd"/><rect x="380" y="805.5" width="170" height="2" fill="#8a8586"/><rect x="551" y="805.9" width="440" height="1.3" fill="#d0d0d0"/><text x="465" y="830.5" text-anchor="middle" font-family="Liberation Sans" font-weight="bold" font-style="italic" font-size="17" fill="#fff" textLength="101.9" lengthAdjust="spacingAndGlyphs">MWQ 50/3000</text><text x="587.5" y="830.5" text-anchor="middle" font-family="Liberation Sans" font-size="17.5" fill="#333" textLength="59.0" lengthAdjust="spacingAndGlyphs">556/559</text><text x="661.0" y="830.5" text-anchor="middle" font-family="Liberation Sans" font-size="17.5" fill="#333" textLength="24.8" lengthAdjust="spacingAndGlyphs">120</text><text x="735.0" y="830.5" text-anchor="middle" font-family="Liberation Sans" font-size="17.5" fill="#333" textLength="24.8" lengthAdjust="spacingAndGlyphs">215</text><text x="808.5" y="830.5" text-anchor="middle" font-family="Liberation Sans" font-size="17.5" fill="#333" textLength="24.8" lengthAdjust="spacingAndGlyphs">151</text><text x="882.0" y="830.5" text-anchor="middle" font-family="Liberation Sans" font-size="17.5" fill="#333" textLength="24.8" lengthAdjust="spacingAndGlyphs">258</text><text x="955.5" y="830.5" text-anchor="middle" font-family="Liberation Sans" font-size="17.5" fill="#333" textLength="24.8" lengthAdjust="spacingAndGlyphs">230</text><rect x="380" y="843" width="170" height="36" fill="#231c1e"/><rect x="551" y="843" width="440" height="36" fill="#efefef"/><rect x="624" y="843" width="1.2" height="36" fill="#cdcdcd"/><rect x="698" y="843" width="1.2" height="36" fill="#cdcdcd"/><rect x="772" y="843" width="1.2" height="36" fill="#cdcdcd"/><rect x="845" y="843" width="1.2" height="36" fill="#cdcdcd"/><rect x="919" y="843" width="1.2" height="36" fill="#cdcdcd"/><rect x="380" y="842.5" width="170" height="2" fill="#8a8586"/><rect x="551" y="842.9" width="440" height="1.3" fill="#d0d0d0"/><text x="465" y="867.0" text-anchor="middle" font-family="Liberation Sans" font-weight="bold" font-style="italic" font-size="17" fill="#fff" textLength="101.9" lengthAdjust="spacingAndGlyphs">MWQ 80/3000</text><text x="587.5" y="867.0" text-anchor="middle" font-family="Liberation Sans" font-size="17.5" fill="#333" textLength="59.0" lengthAdjust="spacingAndGlyphs">559/562</text><text x="661.0" y="867.0" text-anchor="middle" font-family="Liberation Sans" font-size="17.5" fill="#333" textLength="24.8" lengthAdjust="spacingAndGlyphs">122</text><text x="735.0" y="867.0" text-anchor="middle" font-family="Liberation Sans" font-size="17.5" fill="#333" textLength="24.8" lengthAdjust="spacingAndGlyphs">220</text><text x="808.5" y="867.0" text-anchor="middle" font-family="Liberation Sans" font-size="17.5" fill="#333" textLength="24.8" lengthAdjust="spacingAndGlyphs">152</text><text x="882.0" y="867.0" text-anchor="middle" font-family="Liberation Sans" font-size="17.5" fill="#333" textLength="24.8" lengthAdjust="spacingAndGlyphs">260</text><text x="955.5" y="867.0" text-anchor="middle" font-family="Liberation Sans" font-size="17.5" fill="#333" textLength="24.8" lengthAdjust="spacingAndGlyphs">230</text><rect x="380" y="879" width="170" height="37" fill="#231c1e"/><rect x="551" y="879" width="440" height="37" fill="#e0e0e0"/><rect x="624" y="879" width="1.2" height="37" fill="#cdcdcd"/><rect x="698" y="879" width="1.2" height="37" fill="#cdcdcd"/><rect x="772" y="879" width="1.2" height="37" fill="#cdcdcd"/><rect x="845" y="879" width="1.2" height="37" fill="#cdcdcd"/><rect x="919" y="879" width="1.2" height="37" fill="#cdcdcd"/><rect x="380" y="878.5" width="170" height="2" fill="#8a8586"/><rect x="551" y="878.9" width="440" height="1.3" fill="#d0d0d0"/><text x="465" y="903.5" text-anchor="middle" font-family="Liberation Sans" font-weight="bold" font-style="italic" font-size="17" fill="#fff" textLength="110.7" lengthAdjust="spacingAndGlyphs">MWQ 100/5500</text><text x="587.5" y="903.5" text-anchor="middle" font-family="Liberation Sans" font-size="17.5" fill="#333" textLength="24.8" lengthAdjust="spacingAndGlyphs">660</text><text x="661.0" y="903.5" text-anchor="middle" font-family="Liberation Sans" font-size="17.5" fill="#333" textLength="24.8" lengthAdjust="spacingAndGlyphs">146</text><text x="735.0" y="903.5" text-anchor="middle" font-family="Liberation Sans" font-size="17.5" fill="#333" textLength="24.8" lengthAdjust="spacingAndGlyphs">258</text><text x="808.5" y="903.5" text-anchor="middle" font-family="Liberation Sans" font-size="17.5" fill="#333" textLength="24.8" lengthAdjust="spacingAndGlyphs">180</text><text x="882.0" y="903.5" text-anchor="middle" font-family="Liberation Sans" font-size="17.5" fill="#333" textLength="24.8" lengthAdjust="spacingAndGlyphs">310</text><text x="955.5" y="903.5" text-anchor="middle" font-family="Liberation Sans" font-size="17.5" fill="#333" textLength="24.8" lengthAdjust="spacingAndGlyphs">260</text><rect x="380" y="916" width="170" height="37" fill="#231c1e"/><rect x="551" y="916" width="440" height="37" fill="#efefef"/><rect x="624" y="916" width="1.2" height="37" fill="#cdcdcd"/><rect x="698" y="916" width="1.2" height="37" fill="#cdcdcd"/><rect x="772" y="916" width="1.2" height="37" fill="#cdcdcd"/><rect x="845" y="916" width="1.2" height="37" fill="#cdcdcd"/><rect x="919" y="916" width="1.2" height="37" fill="#cdcdcd"/><rect x="380" y="915.5" width="170" height="2" fill="#8a8586"/><rect x="551" y="915.9" width="440" height="1.3" fill="#d0d0d0"/><text x="465" y="940.5" text-anchor="middle" font-family="Liberation Sans" font-weight="bold" font-style="italic" font-size="17" fill="#fff" textLength="110.7" lengthAdjust="spacingAndGlyphs">MWQ 150/7500</text><text x="587.5" y="940.5" text-anchor="middle" font-family="Liberation Sans" font-size="17.5" fill="#333" textLength="24.8" lengthAdjust="spacingAndGlyphs">730</text><text x="661.0" y="940.5" text-anchor="middle" font-family="Liberation Sans" font-size="17.5" fill="#333" textLength="24.8" lengthAdjust="spacingAndGlyphs">175</text><text x="735.0" y="940.5" text-anchor="middle" font-family="Liberation Sans" font-size="17.5" fill="#333" textLength="24.8" lengthAdjust="spacingAndGlyphs">300</text><text x="808.5" y="940.5" text-anchor="middle" font-family="Liberation Sans" font-size="17.5" fill="#333" textLength="24.8" lengthAdjust="spacingAndGlyphs">198</text><text x="882.0" y="940.5" text-anchor="middle" font-family="Liberation Sans" font-size="17.5" fill="#333" textLength="24.8" lengthAdjust="spacingAndGlyphs">330</text><text x="955.5" y="940.5" text-anchor="middle" font-family="Liberation Sans" font-size="17.5" fill="#333" textLength="24.8" lengthAdjust="spacingAndGlyphs">320</text><text x="465" y="662" text-anchor="middle" font-family="Liberation Sans" font-weight="bold" font-style="italic" font-size="10" fill="#3a3a3a" textLength="69" lengthAdjust="spacingAndGlyphs">Наименование</text><text x="771" y="640" text-anchor="middle" font-family="Liberation Sans" font-weight="bold" font-style="italic" font-size="9.5" fill="#fff">Размеры (мм)</text><text x="587.5" y="677" text-anchor="middle" font-family="Liberation Sans" font-weight="bold" font-style="italic" font-size="9" fill="#fff">H</text><text x="661.0" y="677" text-anchor="middle" font-family="Liberation Sans" font-weight="bold" font-style="italic" font-size="9" fill="#fff">H1</text><text x="735.0" y="677" text-anchor="middle" font-family="Liberation Sans" font-weight="bold" font-style="italic" font-size="9" fill="#fff">A</text><text x="808.5" y="677" text-anchor="middle" font-family="Liberation Sans" font-weight="bold" font-style="italic" font-size="9" fill="#fff">B1</text><text x="882.0" y="677" text-anchor="middle" font-family="Liberation Sans" font-weight="bold" font-style="italic" font-size="9" fill="#fff">B2</text><text x="955.5" y="677" text-anchor="middle" font-family="Liberation Sans" font-weight="bold" font-style="italic" font-size="9" fill="#fff">B3</text>
<g fill="#555"><rect x="221" y="964" width="4" height="1.6"/><rect x="230" y="964" width="3" height="1.6"/></g>
</svg>
</body></html>
